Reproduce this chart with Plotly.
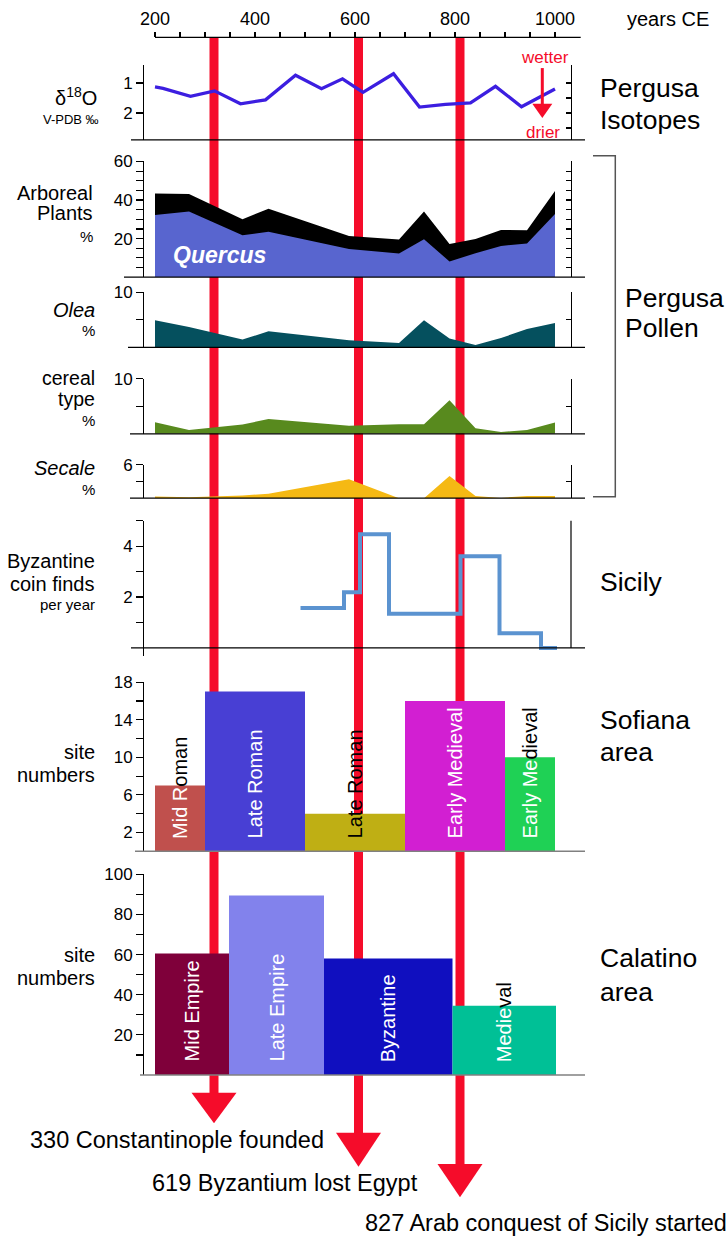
import plotly.graph_objects as go

W, H = 728, 1238
FONT = "Arial, Liberation Sans, Helvetica, sans-serif"

# ---------------- data ----------------
top_ticks = list(range(200, 1001, 50))
top_tick_labels = [str(v) if v % 200 == 0 else "" for v in top_ticks]

iso_years = [200, 216, 271, 319, 371, 421, 481, 533, 575, 616, 677, 729, 781, 831, 881, 933, 1000]
iso_d18o = [1.13, 1.18, 1.44, 1.26, 1.69, 1.56, 0.74, 1.19, 0.86, 1.31, 0.69, 1.80, 1.71, 1.66, 1.11, 1.79, 1.20]

pollen_years = [200, 268, 375, 427, 588, 688, 738, 789, 841, 892, 944, 1000]
arboreal_total = [43.4, 43.1, 30.0, 35.5, 21.4, 19.5, 34.0, 17.2, 19.8, 24.5, 24.3, 44.7]
quercus = [32.2, 34.0, 21.7, 23.6, 14.6, 12.2, 19.7, 8.1, 12.4, 16.2, 17.4, 32.8]
olea = [4.9, 3.7, 1.4, 2.9, 1.3, 0.8, 4.9, 1.6, 0.4, 1.7, 3.3, 4.4]
cereal = [2.1, 0.7, 1.7, 2.7, 1.45, 1.75, 1.75, 6.1, 1.0, 0.35, 0.7, 2.05]
secale = [0.3, 0.15, 0.5, 0.8, 3.4, 0.0, 0.0, 4.0, 0.4, 0.05, 0.4, 0.4]

coin_edges = [491, 578, 610, 668, 811, 889, 972, 1004]
coin_rate = [1.57, 2.19, 4.47, 1.34, 3.61, 0.58, 0.0]

sofiana_periods = ["Mid Roman", "Late Roman", "Late Roman", "Early Medieval", "Early Medieval"]
sofiana_start = [200, 300, 500, 700, 900]
sofiana_end = [300, 500, 700, 900, 1000]
sofiana_sites = [7, 17, 4, 16, 10]

calatino_periods = ["Mid Empire", "Late Empire", "Byzantine", "Medieval"]
calatino_start = [200, 348, 538, 795]
calatino_end = [348, 538, 795, 1002]
calatino_sites = [60.5, 89.5, 58, 34.5]

event_years = [330, 619, 827]
event_labels = ["330 Constantinople founded", "619 Byzantium lost Egypt",
                "827 Arab conquest of Sicily started"]
event_line_years = [318, 607, 810]   # where the red bars are drawn in the figure

# ---------------- styles ----------------
RED = "#F50C2A"
sofiana_colors = ["#C0504D", "#483FD4", "#BFAF14", "#D21FD2", "#1FD155"]
sofiana_text_colors = ["white", "white", "black", "white", "white"]
sofiana_split = [5, None, None, None, 8]
calatino_colors = ["#7F003A", "#8282EC", "#100FBF", "#00C096"]
calatino_split = [None, None, None, 5]

X0_YEAR, X0_PX, PX_PER_YEAR = 200, 155.0, 0.5
XR = [X0_YEAR - X0_PX / PX_PER_YEAR, X0_YEAR + (W - X0_PX) / PX_PER_YEAR]

# the page capture adds ~9px above the figure and squeezes it vertically; compensate
Y_SHIFT = 9.3
Y_SCALE = H / (H + Y_SHIFT)


def px_x(p):
    return p / W


def px_y(p):
    return 1 - (p / Y_SCALE - Y_SHIFT) / H


def yr2px(yr):
    return X0_PX + (yr - X0_YEAR) * PX_PER_YEAR


def dom(top, bottom):
    return [px_y(bottom), px_y(top)]


fig = go.Figure()
common = dict(hoverinfo="skip", showlegend=False, xaxis="x")

fig.add_trace(go.Scatter(x=iso_years, y=iso_d18o, mode="lines",
                         line=dict(color="#3C1EE0", width=3.3), yaxis="y", **common))
fig.add_trace(go.Scatter(x=pollen_years, y=arboreal_total, mode="none", fill="tozeroy",
                         fillcolor="black", yaxis="y2", **common))
fig.add_trace(go.Scatter(x=pollen_years, y=quercus, mode="none", fill="tozeroy",
                         fillcolor="#5865CF", yaxis="y2", **common))
fig.add_trace(go.Scatter(x=pollen_years, y=olea, mode="none", fill="tozeroy",
                         fillcolor="#05505E", yaxis="y3", **common))
fig.add_trace(go.Scatter(x=pollen_years, y=cereal, mode="none", fill="tozeroy",
                         fillcolor="#588A1E", yaxis="y4", **common))
fig.add_trace(go.Scatter(x=pollen_years, y=secale, mode="none", fill="tozeroy",
                         fillcolor="#F5B914", yaxis="y5", **common))
fig.add_trace(go.Scatter(x=coin_edges, y=coin_rate + [coin_rate[-1]], mode="lines",
                         line=dict(color="#5B93D0", width=4, shape="hv"), yaxis="y6", **common))
fig.add_trace(go.Bar(x=[(a + b) / 2 for a, b in zip(sofiana_start, sofiana_end)], y=sofiana_sites,
                     width=[b - a for a, b in zip(sofiana_start, sofiana_end)],
                     marker=dict(color=sofiana_colors, line=dict(width=0)), yaxis="y7", **common))
fig.add_trace(go.Bar(x=[(a + b) / 2 for a, b in zip(calatino_start, calatino_end)], y=calatino_sites,
                     width=[b - a for a, b in zip(calatino_start, calatino_end)],
                     marker=dict(color=calatino_colors, line=dict(width=0)), yaxis="y8", **common))
for ya in ["y9", "y10", "y11", "y12", "y13"]:
    fig.add_trace(go.Scatter(x=[None], y=[None], yaxis=ya, **common))
fig.add_trace(go.Scatter(x=[None], y=[None], xaxis="x2", yaxis="y", hoverinfo="skip", showlegend=False))

TICKFONT = dict(family=FONT, size=17, color="black")


def left_axis(top, bottom, rng, vals, labels):
    return dict(domain=dom(top, bottom), range=rng, anchor="free", position=px_x(143), side="left",
                showline=True, linecolor="black", linewidth=1.2, ticks="outside", ticklen=7,
                tickwidth=1.2, tickcolor="black", tickvals=vals, ticktext=labels, tickfont=TICKFONT,
                showgrid=False, zeroline=False, fixedrange=True)


def right_axis(over, rng, vals):
    return dict(overlaying=over, range=rng, anchor="free", position=px_x(571), side="right",
                showline=True, linecolor="black", linewidth=1.2, ticks="inside", ticklen=5,
                tickwidth=1.2, tickcolor="black", tickvals=vals, showticklabels=False,
                showgrid=False, zeroline=False, fixedrange=True)


def lbl(vals, show):
    return [str(v) if v in show else "" for v in vals]


iso_rng = [2.89, 0.407]
coin_rng = [-0.335, 5]
layout_axes = dict(
    xaxis=dict(domain=[0, 1], range=XR, visible=False, fixedrange=True),
    xaxis2=dict(overlaying="x", anchor="free", position=px_y(37.7), side="top", range=XR,
                tickvals=top_ticks, ticktext=top_tick_labels, ticks="outside", ticklen=5,
                tickwidth=1.2, tickcolor="black", showline=False, showgrid=False, zeroline=False,
                tickfont=dict(family=FONT, size=18, color="black"), fixedrange=True),
    yaxis=left_axis(65.5, 140, iso_rng, [1, 2], ["1", "2"]),
    yaxis2=left_axis(161.7, 277.3, [0, 60], list(range(5, 61, 5)), lbl(range(5, 61, 5), [20, 40, 60])),
    yaxis3=left_axis(292.3, 347.5, [0, 10], [5, 10], ["", "10"]),
    yaxis4=left_axis(379, 434, [0, 10], [5, 10], ["", "10"]),
    yaxis5=left_axis(465, 498.3, [0, 6], [3, 6], ["", "6"]),
    yaxis6=left_axis(521, 656.5, coin_rng, [1, 2, 3, 4, 5], ["", "2", "", "4", ""]),
    yaxis7=left_axis(682.3, 851.3, [0, 18], list(range(2, 19, 2)), lbl(range(2, 19, 2), [2, 6, 10, 14, 18])),
    yaxis8=left_axis(874.4, 1075, [0, 100], list(range(10, 101, 10)), lbl(range(10, 101, 10), [20, 40, 60, 80, 100])),
    yaxis9=right_axis("y", iso_rng, [1, 1.5, 2, 2.5]),
    yaxis10=right_axis("y2", [0, 60], list(range(5, 61, 5))),
    yaxis11=right_axis("y3", [0, 10], [5, 10]),
    yaxis12=right_axis("y4", [0, 10], [5, 10]),
    yaxis13=right_axis("y5", [0, 6], [3, 6]),
)

shapes = []


def hline(y, x0, x1, color="black", width=1.2):
    shapes.append(dict(type="line", xref="paper", yref="paper", x0=px_x(x0), x1=px_x(x1),
                       y0=px_y(y), y1=px_y(y), line=dict(color=color, width=width)))


def vline(x, y0, y1, color="black", width=1.2):
    shapes.append(dict(type="line", xref="paper", yref="paper", x0=px_x(x), x1=px_x(x),
                       y0=px_y(y0), y1=px_y(y1), line=dict(color=color, width=width)))


def tri(xc, half, ytop, ytip, color):
    path = "M {:.5f},{:.5f} L {:.5f},{:.5f} L {:.5f},{:.5f} Z".format(
        px_x(xc - half), px_y(ytop), px_x(xc + half), px_y(ytop), px_x(xc), px_y(ytip))
    shapes.append(dict(type="path", xref="paper", yref="paper", path=path,
                       fillcolor=color, line=dict(width=0)))


hline(37.7, 155, 580.7)
hline(140, 131, 585)
hline(277.3, 124, 585)
hline(347.5, 128, 585)
hline(434, 130, 585)
hline(498.3, 130, 585)
hline(648, 131, 585)
hline(851.3, 135, 585, color="#808080", width=1.5)
hline(1075, 140, 585, color="#808080", width=1.5)
vline(571, 521, 648)
shapes.append(dict(type="path", xref="paper", yref="paper",
                   path="M {:.5f},{:.5f} L {:.5f},{:.5f} L {:.5f},{:.5f} L {:.5f},{:.5f}".format(
                       px_x(593), px_y(156), px_x(615.3), px_y(156), px_x(615.3), px_y(497),
                       px_x(593), px_y(497)),
                   line=dict(color="#555555", width=1.5)))
vline(542.3, 68.3, 106, color=RED, width=3)
tri(542.3, 10, 104, 118.3, RED)

head_top = [1092.7, 1132.7, 1164]
head_tip = [1123.3, 1166.7, 1197.3]
for yr, ht, tp in zip(event_line_years, head_top, head_tip):
    shapes.append(dict(type="line", xref="x", yref="paper", x0=yr, x1=yr, y0=px_y(37.7), y1=px_y(ht + 2),
                       line=dict(color=RED, width=9), layer="below"))
    tri(yr2px(yr), 22.5, ht, tp, RED)

annotations = []


def text(x, y, s, size=20, anchor="right", color="black", xref="paper", yanchor="middle", angle=0, **kw):
    annotations.append(dict(x=px_x(x) if xref == "paper" else x, y=px_y(y), xref=xref, yref="paper",
                            text=s, showarrow=False, xanchor=anchor, yanchor=yanchor, textangle=angle,
                            font=dict(family=FONT, size=size, color=color), **kw))


text(99, 96.7, "δ<sup>18</sup>O", 20)
text(101, 119.3, "V-PDB ‰", 13)
text(95, 193.3, "Arboreal")
text(95, 213.3, "Plants")
text(95, 236.7, "%", 15)
text(97, 310, "<i>Olea</i>")
text(97, 330.7, "%", 15)
text(97, 378.5, "cereal", 19.5)
text(97, 399, "type", 19.5)
text(97, 420.7, "%", 15)
text(97, 467.7, "<i>Secale</i>")
text(97, 489.3, "%", 15)
text(97, 560.7, "Byzantine")
text(97, 584, "coin finds")
text(97, 605, "per year", 15)
text(97, 751.7, "site")
text(97, 775, "numbers")
text(97, 955, "site")
text(97, 978, "numbers")

RS = 26.5
text(598, 88.3, "Pergusa", RS, "left")
text(598, 120.7, "Isotopes", RS, "left")
text(623, 298.3, "Pergusa", RS, "left")
text(623, 328.3, "Pollen", RS, "left")
text(598, 581.7, "Sicily", RS, "left")
text(598, 720, "Sofiana", RS, "left")
text(598, 751.7, "area", RS, "left")
text(598, 958, "Calatino", RS, "left")
text(598, 991.7, "area", RS, "left")

text(667.5, 19, "years CE", 20, "center")
text(545, 57.3, "wetter", 17, "center", RED)
text(542.7, 132.7, "drier", 17, "center", RED)
text(171, 255, "<b><i>Quercus</i></b>", 23, "left", "white")


def bar_label(s, color, split):
    if split is not None and split < len(s):
        return ('<span style="color:{}">{}</span><span style="color:black">{}</span>'
                .format(color, s[:split], s[split:]))
    return '<span style="color:{}">{}</span>'.format(color, s)


for s, a, b, c, sp in zip(sofiana_periods, sofiana_start, sofiana_end, sofiana_text_colors, sofiana_split):
    text((a + b) / 2, 841, bar_label(s, c, sp), 20, "center", xref="x", yanchor="bottom", angle=-90)
for s, a, b, sp in zip(calatino_periods, calatino_start, calatino_end, calatino_split):
    text((a + b) / 2, 1064, bar_label(s, "white", sp), 20, "center", xref="x", yanchor="bottom", angle=-90)

label_pos = [(28, 1140), (150, 1182.7), (363, 1223)]
for s, (x, y) in zip(event_labels, label_pos):
    text(x, y, s, 23.5, "left")

fig.update_layout(width=W, height=H, margin=dict(l=0, r=0, t=0, b=0), paper_bgcolor="white",
                  plot_bgcolor="rgba(0,0,0,0)", showlegend=False, barmode="overlay",
                  hovermode=False, dragmode=False,
                  font=dict(family=FONT, color="black"), shapes=shapes, annotations=annotations,
                  **layout_axes)

fig.write_html("out.html", config={"displayModeBar": False, "staticPlot": True},
               post_script="document.body.style.margin='0';")
